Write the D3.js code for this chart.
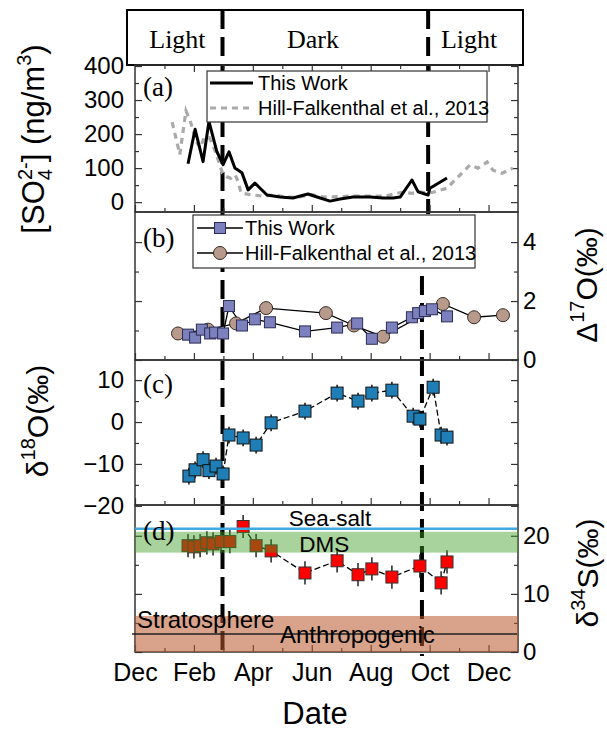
<!DOCTYPE html>
<meta charset="utf-8">
<script src="https://cdn.jsdelivr.net/npm/d3@7/dist/d3.min.js"></script>
<html>
<head>
<style>
body { margin: 0; background: #fff; }
text { font-family: Arial, "Liberation Sans", sans-serif; fill: #000; }
.serif { font-family: "Times New Roman", "Liberation Serif", serif; }
</style>
</head>
<body>
<div id="chart"></div>
<script>
// month index on the x axis: 0 = Dec, 2 = Feb, 4 = Apr ... 12 = Dec, 13 = Jan
var monthLabels = ["Dec", "Feb", "Apr", "Jun", "Aug", "Oct", "Dec"];
var monthLabelAt = [0, 2, 4, 6, 8, 10, 12];

// light / dark periods
var periodNames = ["Light", "Dark", "Light"];
var periodLabelAt = [1.44, 6.04, 11.34];
var darkStart = 2.97;
var darkEndTop = 9.95;
var darkEndBottom = 9.74;

// (a) sulfate, ng/m3
var aWorkDate = [1.80, 2.04, 2.31, 2.51, 2.78, 2.99, 3.19, 3.39, 3.63, 3.84, 4.07, 4.48, 4.92, 5.36, 5.87, 6.18, 6.62, 6.96, 7.40, 7.98, 8.42, 8.76, 9.00, 9.40, 9.61, 9.95, 10.01, 10.59];
var aWorkConc = [113, 214, 119, 237, 148, 110, 148, 100, 86, 36, 56, 21, 15, 12, 24, 15, 3, 9, 15, 15, 12, 12, 15, 65, 30, 21, 41, 71];
var aHillDate = [1.26, 1.40, 1.52, 1.73, 1.87, 2.07, 2.21, 2.35, 2.52, 2.70, 2.84, 2.97, 3.10, 3.25, 3.40, 3.50, 3.60, 3.90, 4.30, 4.70, 5.15, 5.50, 6.00, 6.40, 6.90, 7.40, 8.00, 8.50, 9.06, 9.40, 9.67, 9.95, 10.12, 10.59, 10.79, 11.13, 11.37, 11.64, 11.95, 12.15, 12.46, 12.83];
var aHillConc = [235, 185, 140, 268, 240, 180, 160, 190, 190, 155, 120, 85, 75, 70, 80, 60, 27, 22, 18, 21, 15, 14, 22, 15, 16, 18, 18, 18, 29, 26, 30, 27, 29, 41, 59, 88, 109, 100, 118, 94, 85, 100];

// (b) D17O, permil
var bWorkDate = [1.80, 2.04, 2.27, 2.55, 2.72, 2.99, 3.19, 3.63, 4.07, 4.58, 5.77, 6.86, 7.54, 8.04, 8.72, 9.40, 9.61, 9.84, 10.08, 10.59];
var bWorkD17O = [0.86, 0.76, 1.03, 0.90, 0.93, 0.90, 1.83, 1.17, 1.38, 1.28, 0.97, 1.10, 1.24, 0.72, 1.10, 1.45, 1.59, 1.66, 1.72, 1.48];
var bHillDate = [1.46, 2.48, 3.43, 4.45, 6.48, 7.43, 8.42, 10.45, 11.51, 12.49];
var bHillD17O = [0.90, 1.03, 1.24, 1.76, 1.59, 1.17, 0.79, 1.90, 1.45, 1.52];

// (c) d18O, permil
var cDate = [1.83, 2.04, 2.31, 2.51, 2.75, 2.99, 3.19, 3.67, 4.11, 4.62, 5.77, 6.86, 7.57, 8.04, 8.72, 9.44, 9.67, 10.12, 10.39, 10.59];
var cD18O = [-12.9, -11.4, -9.0, -11.6, -10.5, -12.4, -3.1, -3.8, -5.5, -0.2, 2.6, 6.9, 5.0, 6.9, 7.6, 1.4, 0.7, 8.3, -3.1, -3.6];
var cErr = [2, 2, 2, 2, 2, 2, 2, 2, 2, 2, 2, 2, 2, 2, 2, 2, 2, 2, 2, 2];

// (d) d34S, permil
var dDate = [1.80, 2.00, 2.21, 2.44, 2.65, 2.92, 3.22, 3.67, 4.11, 4.62, 5.77, 6.86, 7.57, 8.04, 8.72, 9.67, 10.39, 10.59];
var dD34S = [18.3, 18.1, 18.3, 18.8, 18.6, 19.0, 19.0, 21.6, 18.3, 17.4, 13.6, 15.7, 13.3, 14.3, 12.9, 14.8, 11.9, 15.5];
var dErr = [2, 2, 2, 2, 2, 2, 2, 2, 2, 2, 2, 2, 2, 2, 2, 2, 2, 2];

// source signatures in (d)
var seaSalt = 21.2;
var dmsRange = [17.1, 20.7];
var anthropogenic = 3.1;
var stratoRange = [0, 6.2];

var W = 607, H = 731;
var svg = d3.select("#chart").append("svg").attr("width", W).attr("height", H);

var x = d3.scaleLinear().domain([0, 13]).range([135, 518]);
var yA = d3.scaleLinear().domain([-29, 403]).range([212, 65]);
var yB = d3.scaleLinear().domain([0, 5.02]).range([360, 212]);
var yC = d3.scaleLinear().domain([-19.8, 14.8]).range([505, 360]);
var yD = d3.scaleLinear().domain([0, 25.3]).range([652, 505]);

var tickFont = 24;

// header box first, dashed lines go over it
svg.append("rect").attr("x", 127).attr("y", 10).attr("width", 396).attr("height", 55)
  .attr("fill", "#fff").attr("stroke", "#000").attr("stroke-width", 2);
svg.selectAll(".period").data(periodNames).enter().append("text")
  .attr("class", "serif")
  .attr("x", function(d, i) { return x(periodLabelAt[i]); })
  .attr("y", 48)
  .attr("text-anchor", "middle")
  .attr("font-size", 26)
  .text(function(d) { return d; });

// dashed light/dark boundaries
var dash = svg.append("g").attr("stroke", "#000").attr("stroke-width", 4).attr("stroke-dasharray", "19,8");
dash.append("line").attr("x1", x(darkStart)).attr("x2", x(darkStart)).attr("y1", 10).attr("y2", 656);
dash.append("line").attr("x1", x(darkEndTop)).attr("x2", x(darkEndTop)).attr("y1", 10).attr("y2", 214);
dash.append("line").attr("x1", x(darkEndBottom)).attr("x2", x(darkEndBottom)).attr("y1", 222).attr("y2", 656);

// ticks and frame of one panel
function panelAxes(y, major, minor, labelSide, topTicks) {
  var g = svg.append("g").attr("color", "#333");
  var top = y.range()[1], bot = y.range()[0];
  function clean(sel) { sel.select(".domain").remove(); sel.selectAll("line").attr("stroke-width", 1.2); }

  g.append("g").attr("transform", "translate(0," + bot + ")")
    .call(d3.axisBottom(x).tickValues([0, 2, 4, 6, 8, 10, 12]).tickSize(-7).tickFormat("")).call(clean);
  g.append("g").attr("transform", "translate(0," + bot + ")")
    .call(d3.axisBottom(x).tickValues([1, 3, 5, 7, 9, 11]).tickSize(-4).tickFormat("")).call(clean);
  if (topTicks) {
    g.append("g").attr("transform", "translate(0," + top + ")")
      .call(d3.axisTop(x).tickValues([2, 4, 6, 8, 10, 12]).tickSize(-7).tickFormat("")).call(clean);
    g.append("g").attr("transform", "translate(0," + top + ")")
      .call(d3.axisTop(x).tickValues([1, 3, 5, 7, 9, 11]).tickSize(-4).tickFormat("")).call(clean);
  }
  g.append("g").attr("transform", "translate(" + x(0) + ",0)")
    .call(d3.axisLeft(y).tickValues(major).tickSize(-7).tickPadding(11)
      .tickFormat(labelSide == "left" ? d3.format("d") : ""))
    .call(clean);
  g.append("g").attr("transform", "translate(" + x(0) + ",0)")
    .call(d3.axisLeft(y).tickValues(minor).tickSize(-4).tickFormat("")).call(clean);
  g.append("g").attr("transform", "translate(" + x(13) + ",0)")
    .call(d3.axisRight(y).tickValues(major).tickSize(-7).tickPadding(5)
      .tickFormat(labelSide == "right" ? d3.format("d") : ""))
    .call(clean);
  g.append("g").attr("transform", "translate(" + x(13) + ",0)")
    .call(d3.axisRight(y).tickValues(minor).tickSize(-4).tickFormat("")).call(clean);
  g.selectAll("text").attr("font-size", tickFont).attr("font-family", "Arial, 'Liberation Sans', sans-serif").attr("fill", "#000");

  g.append("rect").attr("x", x(0)).attr("y", top).attr("width", x(13) - x(0)).attr("height", bot - top)
    .attr("fill", "none").attr("stroke", "#333").attr("stroke-width", 1.5);
  return g;
}

panelAxes(yA, [0, 100, 200, 300, 400], [50, 150, 250, 350], "left", true);
panelAxes(yB, [0, 2, 4], [1, 3], "right", false);
panelAxes(yC, [-20, -10, 0, 10], [-15, -5, 5], "left", false);
panelAxes(yD, [0, 10, 20], [5, 15], "right", false);

// month labels under (d)
svg.append("g").attr("transform", "translate(0," + yD.range()[0] + ")")
  .call(d3.axisBottom(x).tickValues(monthLabelAt).tickSize(0).tickPadding(11)
    .tickFormat(function(d, i) { return monthLabels[i]; }))
  .call(function(s) { s.select(".domain").remove(); })
  .selectAll("text").attr("font-size", 25).attr("font-family", "Arial, 'Liberation Sans', sans-serif").attr("fill", "#000");

// ---- (a) ----
var lineA = d3.line().x(function(d) { return x(d[0]); }).y(function(d) { return yA(d[1]); });
svg.append("path").datum(d3.zip(aHillDate, aHillConc))
  .attr("fill", "none").attr("stroke", "#aaa").attr("stroke-width", 3.2).attr("stroke-dasharray", "6,5")
  .attr("d", lineA);
svg.append("path").datum(d3.zip(aWorkDate, aWorkConc))
  .attr("fill", "none").attr("stroke", "#000").attr("stroke-width", 3).attr("stroke-linejoin", "round")
  .attr("d", lineA);

// ---- (b) ----
var lineB = d3.line().x(function(d) { return x(d[0]); }).y(function(d) { return yB(d[1]); });
svg.append("path").datum(d3.zip(bHillDate, bHillD17O))
  .attr("fill", "none").attr("stroke", "#000").attr("stroke-width", 1.3).attr("d", lineB);
svg.append("path").datum(d3.zip(bWorkDate, bWorkD17O))
  .attr("fill", "none").attr("stroke", "#000").attr("stroke-width", 1.3).attr("d", lineB);
svg.selectAll(".bhill").data(d3.zip(bHillDate, bHillD17O)).enter().append("circle")
  .attr("cx", function(d) { return x(d[0]); }).attr("cy", function(d) { return yB(d[1]); })
  .attr("r", 6.5).attr("fill", "#b89a8c").attr("stroke", "#3a2a22").attr("stroke-width", 1);
svg.selectAll(".bwork").data(d3.zip(bWorkDate, bWorkD17O)).enter().append("rect")
  .attr("x", function(d) { return x(d[0]) - 5.5; }).attr("y", function(d) { return yB(d[1]) - 5.5; })
  .attr("width", 11).attr("height", 11).attr("fill", "#7c80bd").attr("stroke", "#2b2d55").attr("stroke-width", 1);

// ---- (c) ----
var lineC = d3.line().x(function(d) { return x(d[0]); }).y(function(d) { return yC(d[1]); });
var cData = d3.zip(cDate, cD18O, cErr);
svg.append("path").datum(cData)
  .attr("fill", "none").attr("stroke", "#000").attr("stroke-width", 1.3).attr("stroke-dasharray", "6,3").attr("d", lineC);
svg.selectAll(".cerr").data(cData).enter().append("line")
  .attr("x1", function(d) { return x(d[0]); }).attr("x2", function(d) { return x(d[0]); })
  .attr("y1", function(d) { return yC(d[1] - d[2]); }).attr("y2", function(d) { return yC(d[1] + d[2]); })
  .attr("stroke", "#111").attr("stroke-width", 1.5);
svg.selectAll(".csq").data(cData).enter().append("rect")
  .attr("x", function(d) { return x(d[0]) - 6; }).attr("y", function(d) { return yC(d[1]) - 6; })
  .attr("width", 12).attr("height", 12).attr("fill", "#1f7eb6").attr("stroke", "#111").attr("stroke-width", 1);

// ---- (d) ----
var lineD = d3.line().x(function(d) { return x(d[0]); }).y(function(d) { return yD(d[1]); });
var dData = d3.zip(dDate, dD34S, dErr);
svg.append("path").datum(dData)
  .attr("fill", "none").attr("stroke", "#000").attr("stroke-width", 1.3).attr("stroke-dasharray", "6,3").attr("d", lineD);
svg.selectAll(".derr").data(dData).enter().append("line")
  .attr("x1", function(d) { return x(d[0]); }).attr("x2", function(d) { return x(d[0]); })
  .attr("y1", function(d) { return yD(d[1] - d[2]); }).attr("y2", function(d) { return yD(d[1] + d[2]); })
  .attr("stroke", "#222").attr("stroke-width", 1.5);
svg.selectAll(".dsq").data(dData).enter().append("rect")
  .attr("x", function(d) { return x(d[0]) - 6; }).attr("y", function(d) { return yD(d[1]) - 6; })
  .attr("width", 12).attr("height", 12).attr("fill", "#ff0000").attr("stroke", "#333").attr("stroke-width", 1);

// source bands are see-through and lie over the samples
svg.append("rect").attr("x", x(0)).attr("width", x(13) - x(0))
  .attr("y", yD(dmsRange[1])).attr("height", yD(dmsRange[0]) - yD(dmsRange[1]))
  .attr("fill", "#3f9e24").attr("fill-opacity", 0.45);
svg.append("rect").attr("x", x(0)).attr("width", x(13) - x(0))
  .attr("y", yD(stratoRange[1])).attr("height", yD(stratoRange[0]) - yD(stratoRange[1]))
  .attr("fill", "#b8582a").attr("fill-opacity", 0.55);
svg.append("line").attr("x1", x(0)).attr("x2", x(13) - 1).attr("y1", yD(seaSalt)).attr("y2", yD(seaSalt))
  .attr("stroke", "#3fa9e0").attr("stroke-width", 2.5);
svg.append("line").attr("x1", x(0) - 3).attr("x2", x(13) - 1).attr("y1", yD(anthropogenic)).attr("y2", yD(anthropogenic))
  .attr("stroke", "#222").attr("stroke-width", 1.5);

var srcText = svg.append("g").attr("font-size", 22.5);
srcText.append("text").attr("x", x(6.62)).attr("y", 526).attr("text-anchor", "middle").text("Sea-salt");
srcText.append("text").attr("x", x(6.42)).attr("y", 552).attr("text-anchor", "middle").text("DMS");
srcText.append("text").attr("x", x(0.07)).attr("y", 628).attr("font-size", 24).text("Stratosphere");
srcText.append("text").attr("x", x(4.92)).attr("y", 643).attr("font-size", 24).text("Anthropogenic");

// panel letters
var letters = [["(a)", 87], ["(b)", 238], ["(c)", 384], ["(d)", 531]];
svg.selectAll(".letter").data(letters).enter().append("text")
  .attr("class", "serif").attr("x", 143).attr("y", function(d) { return d[1] + 9; })
  .attr("font-size", 27).text(function(d) { return d[0]; });

// ---- legends ----
var legA = svg.append("g");
legA.append("rect").attr("x", 207).attr("y", 71).attr("width", 280).attr("height", 51)
  .attr("fill", "#fff").attr("stroke", "#333").attr("stroke-width", 1.2);
legA.append("line").attr("x1", 210).attr("x2", 253).attr("y1", 83).attr("y2", 83)
  .attr("stroke", "#000").attr("stroke-width", 3);
legA.append("line").attr("x1", 210).attr("x2", 253).attr("y1", 108).attr("y2", 108)
  .attr("stroke", "#aaa").attr("stroke-width", 3.2).attr("stroke-dasharray", "6,5");
legA.append("text").attr("x", 258).attr("y", 90).attr("font-size", 20).text("This Work");
legA.append("text").attr("x", 258).attr("y", 115).attr("font-size", 20).text("Hill-Falkenthal et al., 2013");

var legB = svg.append("g");
legB.append("rect").attr("x", 193).attr("y", 215).attr("width", 282).attr("height", 53)
  .attr("fill", "#fff").attr("stroke", "#333").attr("stroke-width", 1.2);
legB.append("line").attr("x1", 197).attr("x2", 243).attr("y1", 228).attr("y2", 228)
  .attr("stroke", "#000").attr("stroke-width", 1.3);
legB.append("rect").attr("x", 214.5).attr("y", 222.5).attr("width", 11).attr("height", 11)
  .attr("fill", "#7c80bd").attr("stroke", "#2b2d55");
legB.append("line").attr("x1", 197).attr("x2", 243).attr("y1", 253).attr("y2", 253)
  .attr("stroke", "#000").attr("stroke-width", 1.3);
legB.append("circle").attr("cx", 220).attr("cy", 253).attr("r", 6.5)
  .attr("fill", "#b89a8c").attr("stroke", "#3a2a22");
legB.append("text").attr("x", 245).attr("y", 235).attr("font-size", 20).text("This Work");
legB.append("text").attr("x", 245).attr("y", 260).attr("font-size", 20).text("Hill-Falkenthal et al., 2013");

// ---- axis titles ----
var tA = svg.append("text").attr("transform", "translate(44,139) rotate(-90)")
  .attr("text-anchor", "middle").attr("font-size", 31);
tA.append("tspan").text("[SO");
tA.append("tspan").attr("font-size", 20).attr("dy", 8).text("4");
tA.append("tspan").attr("font-size", 20).attr("dx", -11).attr("dy", -20).text("2-");
tA.append("tspan").attr("dy", 12).text("] (ng/m");
tA.append("tspan").attr("font-size", 20).attr("dy", -13).text("3");
tA.append("tspan").attr("dy", 13).text(")");

function isoTitle(tx, ty, pre, mass, post) {
  var t = svg.append("text").attr("transform", "translate(" + tx + "," + ty + ") rotate(-90)")
    .attr("text-anchor", "middle").attr("font-size", 30);
  t.append("tspan").text(pre);
  t.append("tspan").attr("font-size", 20).attr("dy", -13).text(mass);
  t.append("tspan").attr("dy", 13).text(post);
}
isoTitle(597, 285, "\u0394", "17", "O(\u2030)");
isoTitle(48, 421, "\u03b4", "18", "O(\u2030)");
isoTitle(598, 573, "\u03b4", "34", "S(\u2030)");

svg.append("text").attr("x", 315).attr("y", 724).attr("text-anchor", "middle")
  .attr("font-size", 31).text("Date");
</script>
</body>
</html>
